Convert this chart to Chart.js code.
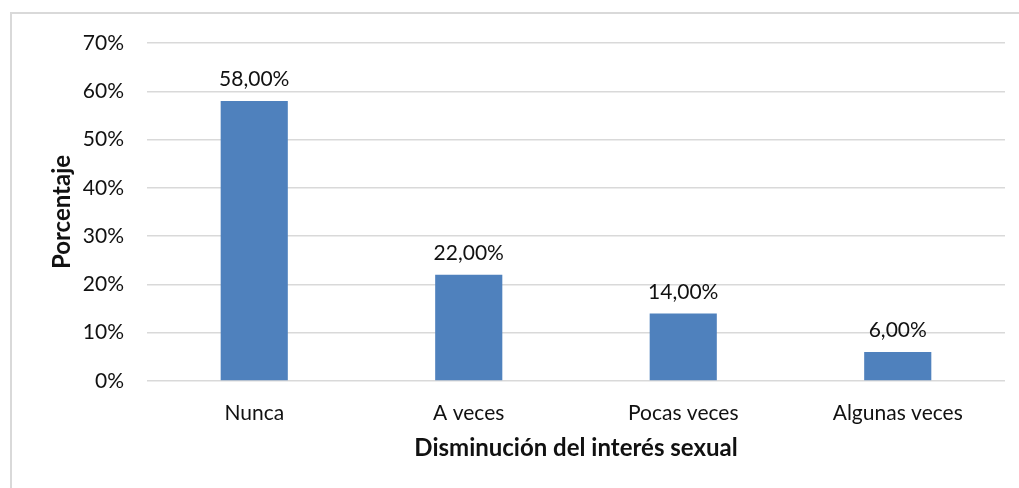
<!DOCTYPE html>
<html>
<head>
<meta charset="utf-8">
<script src="https://cdn.jsdelivr.net/npm/chart.js@4"></script>
<style>
  html, body { margin: 0; padding: 0; background: #fff; }
  #wrap { position: relative; width: 1019px; height: 488px; }
</style>
</head>
<body>
<div id="wrap"><canvas id="grafico"></canvas></div>
<script>
// datos
const categorias = ['Nunca', 'A veces', 'Pocas veces', 'Algunas veces'];
const porcentajes = [58, 22, 14, 6];
const ticksY = [0, 10, 20, 30, 40, 50, 60, 70];

const fuente = 'Lato, "Open Sans", sans-serif';
const colorTexto = '#111111';

// marco del gráfico
const marco = {
    id: 'marco',
    beforeDraw(chart) {
        const ctx = chart.ctx;
        ctx.save();
        ctx.strokeStyle = '#d9d9d9';
        ctx.lineWidth = 2;
        ctx.strokeRect(11, 13, 1030, 500);
        ctx.restore();
    }
};

// etiquetas sobre las barras
const etiquetas = {
    id: 'etiquetas',
    afterDatasetsDraw(chart) {
        const ctx = chart.ctx;
        ctx.save();
        ctx.font = '21px ' + fuente;
        ctx.fillStyle = colorTexto;
        ctx.textAlign = 'center';
        ctx.textBaseline = 'bottom';
        chart.getDatasetMeta(0).data.forEach(function (bar, i) {
            const v = porcentajes[i].toFixed(2).replace('.', ',') + '%';
            ctx.fillText(v, bar.x, bar.y - 11);
        });
        ctx.restore();
    }
};

new Chart(document.getElementById('grafico'), {
    type: 'bar',
    data: {
        labels: categorias,
        datasets: [{
            data: porcentajes,
            backgroundColor: '#4f81bd',
            borderWidth: 0,
            barPercentage: 0.313,
            categoryPercentage: 1
        }]
    },
    options: {
        responsive: true,
        maintainAspectRatio: false,
        animation: false,
        layout: { padding: { left: 48, right: 14, top: 43, bottom: 25 } },
        plugins: {
            legend: { display: false },
            tooltip: { enabled: false }
        },
        scales: {
            y: {
                min: 0,
                max: 70,
                afterBuildTicks: function (axis) {
                    axis.ticks = ticksY.map(function (v) { return { value: v }; });
                },
                border: { display: false },
                grid: { color: '#d9d9d9', lineWidth: 1.5, drawTicks: false },
                ticks: {
                    color: colorTexto,
                    padding: 23,
                    font: { family: fuente, size: 21 },
                    callback: function (v) { return v + '%'; }
                },
                title: {
                    display: true,
                    text: 'Porcentaje',
                    color: colorTexto,
                    font: { family: fuente, size: 24, weight: 'bold' },
                    padding: { top: 0, bottom: -17 }
                }
            },
            x: {
                border: { display: false },
                grid: { display: false, drawTicks: false },
                ticks: {
                    color: colorTexto,
                    padding: 20,
                    font: { family: fuente, size: 21 }
                },
                title: {
                    display: true,
                    text: 'Disminución del interés sexual',
                    color: colorTexto,
                    font: { family: fuente, size: 24, weight: 'bold' },
                    padding: { top: -12, bottom: 0 }
                }
            }
        }
    },
    plugins: [marco, etiquetas]
});
</script>
</body>
</html>
